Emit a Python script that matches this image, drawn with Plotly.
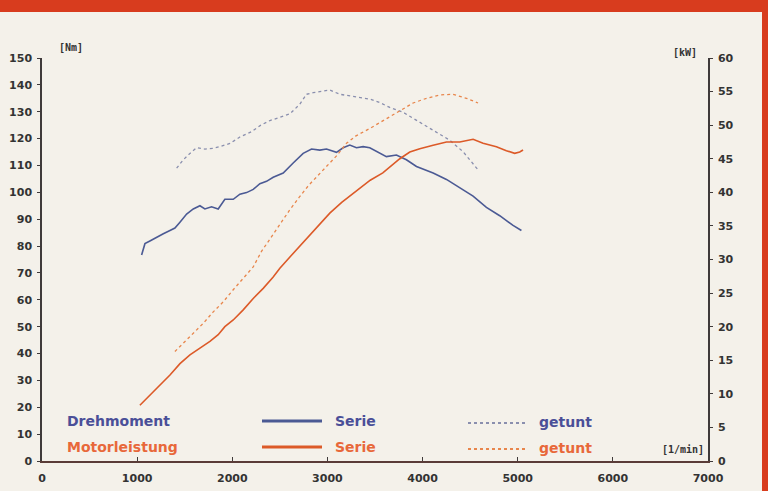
import plotly.graph_objects as go

# Drehmoment (Nm) über Drehzahl (1/min)
rpm_tq_serie = [1047, 1082, 1134, 1205, 1275, 1345, 1397, 1450, 1520, 1590, 1660, 1712, 1782,
                1852, 1922, 2010, 2080, 2150, 2220, 2290, 2360, 2430, 2500, 2535, 2640, 2745,
                2833, 2920, 2990, 3095, 3165, 3235, 3305, 3375, 3445, 3550, 3620, 3725, 3830,
                3936, 4111, 4251, 4391, 4531, 4671, 4811, 4951, 5039]
tq_serie = [76.7, 80.9, 81.9, 83.4, 84.6, 85.8, 86.7, 88.9, 91.9, 93.8, 95.0, 93.8, 94.6,
            93.8, 97.4, 97.4, 99.3, 99.9, 101.1, 103.2, 104.1, 105.6, 106.6, 107.2, 110.9, 114.5,
            116.1, 115.7, 116.1, 114.9, 116.6, 117.6, 116.6, 117.0, 116.6, 114.5, 113.3, 113.9, 112.1,
            109.6, 107.2, 104.8, 101.7, 98.6, 94.4, 91.3, 87.7, 85.8]

rpm_tq_getunt = [1415, 1485, 1555, 1625, 1712, 1800, 1870, 1975, 2080, 2200, 2300, 2395, 2500,
                 2605, 2710, 2780, 2850, 2955, 3025, 3130, 3235, 3340, 3445, 3550, 3655, 3795,
                 3936, 4111, 4286, 4426, 4513, 4583]
tq_getunt = [109.0, 112.1, 114.5, 116.6, 116.1, 116.4, 117.0, 118.2, 120.6, 122.5, 125.0, 126.7, 127.9,
             129.2, 132.8, 136.5, 137.1, 137.7, 138.1, 136.5, 135.9, 135.3, 134.7, 133.4, 131.6, 129.8,
             126.9, 123.1, 119.4, 115.1, 111.5, 108.4]

# Motorleistung (kW) über Drehzahl (1/min)
rpm_kw_serie = [1029, 1134, 1239, 1345, 1450, 1555, 1660, 1765, 1852, 1922, 2010, 2115, 2220,
                2325, 2430, 2500, 2620, 2742, 2880, 3025, 3150, 3309, 3450, 3582, 3700, 3761,
                3866, 3971, 4111, 4251, 4391, 4531, 4636, 4776, 4881, 4968, 5021, 5056]
kw_serie = [8.3, 9.8, 11.3, 12.8, 14.5, 15.8, 16.8, 17.8, 18.8, 20.0, 21.0, 22.5, 24.2,
            25.7, 27.4, 28.7, 30.6, 32.5, 34.8, 36.9, 38.5, 40.3, 41.8, 42.9, 44.2, 45.0,
            46.0, 46.5, 47.0, 47.5, 47.5, 47.9, 47.3, 46.8, 46.2, 45.8, 46.0, 46.3]

rpm_kw_getunt = [1397, 1485, 1590, 1695, 1800, 1905, 2010, 2115, 2220, 2307, 2400, 2500, 2600,
                 2700, 2800, 2900, 3000, 3100, 3200, 3300, 3445, 3620, 3795, 3901, 4041, 4181,
                 4321, 4461, 4583]
kw_getunt = [16.3, 17.5, 19.0, 20.5, 22.2, 23.7, 25.5, 27.2, 28.9, 31.2, 33.2, 35.2, 37.3,
             39.2, 41.0, 42.5, 44.0, 45.5, 47.3, 48.4, 49.5, 51.0, 52.5, 53.3, 54.0, 54.5,
             54.6, 54.0, 53.3]

x_ticks = [0, 1000, 2000, 3000, 4000, 5000, 6000, 7000]
nm_ticks = list(range(0, 151, 10))
kw_ticks = list(range(0, 61, 5))

BLUE = "#4b5a94"
BLUE_DOT = "#8a8fae"
ORANGE = "#dc5a28"
ORANGE_DOT = "#e8864c"
AXIS = "#3f3a3a"
BG = "#f4f1ea"
RED = "#d83c1e"

W, H = 768, 491
ML, MR, MT, MB = 42, 60, 58, 30
PW, PH = W - ML - MR, H - MT - MB


def px(x):
    return (x - ML) / PW


def py(y):
    return (H - MB - y) / PH


fig = go.Figure()
fig.add_trace(go.Scatter(x=rpm_tq_getunt, y=tq_getunt, mode="lines",
                         line=dict(color=BLUE_DOT, width=1.3, dash="dot")))
fig.add_trace(go.Scatter(x=rpm_tq_serie, y=tq_serie, mode="lines",
                         line=dict(color=BLUE, width=1.6)))
fig.add_trace(go.Scatter(x=rpm_kw_getunt, y=kw_getunt, mode="lines", yaxis="y2",
                         line=dict(color=ORANGE_DOT, width=1.3, dash="dot")))
fig.add_trace(go.Scatter(x=rpm_kw_serie, y=kw_serie, mode="lines", yaxis="y2",
                         line=dict(color=ORANGE, width=1.6)))

tick_font = dict(family="DejaVu Sans", size=11, color="#333", weight="bold")

fig.update_layout(
    width=W, height=H,
    margin=dict(l=ML, r=MR, t=MT, b=MB, autoexpand=False),
    paper_bgcolor=BG, plot_bgcolor=BG,
    showlegend=False,
    xaxis=dict(range=[0, 7000], tickvals=x_ticks, ticks="inside", ticklen=4, tickcolor=AXIS,
               showgrid=False, zeroline=False, showline=True, linecolor="#5a3c38", linewidth=1.5,
               tickfont=tick_font, ticklabelstandoff=6, automargin=False),
    yaxis=dict(range=[0, 150], tickvals=nm_ticks, ticks="outside", ticklen=3, tickcolor=AXIS,
               showgrid=False, zeroline=False, showline=True, linecolor=AXIS, linewidth=1.5,
               tickfont=tick_font, ticklabelstandoff=3, automargin=False),
    yaxis2=dict(range=[0, 60], tickvals=kw_ticks, overlaying="y", side="right",
                ticks="outside", ticklen=3, tickcolor=AXIS,
                showgrid=False, zeroline=False, showline=True, linecolor=AXIS, linewidth=1.5,
                tickfont=tick_font, ticklabelstandoff=3, automargin=False),
)

# Rahmen der Seite
fig.add_shape(type="rect", xref="paper", yref="paper", x0=px(0), x1=px(W), y0=py(0), y1=py(12),
              fillcolor=RED, line_width=0, layer="above")
fig.add_shape(type="rect", xref="paper", yref="paper", x0=px(762), x1=px(W), y0=py(0), y1=py(H),
              fillcolor=RED, line_width=0, layer="above")

unit_font = dict(family="DejaVu Sans Mono", size=10, color="#333", weight="bold")
fig.add_annotation(text="[Nm]", xref="paper", yref="paper", x=px(57), y=py(48),
                   xanchor="left", yanchor="middle", showarrow=False, font=unit_font)
fig.add_annotation(text="[kW]", xref="paper", yref="paper", x=px(699), y=py(52),
                   xanchor="right", yanchor="middle", showarrow=False, font=unit_font)
fig.add_annotation(text="[1/min]", xref="paper", yref="paper", x=px(706), y=py(449),
                   xanchor="right", yanchor="middle", showarrow=False, font=unit_font)

# Legende
leg_font = "DejaVu Sans"
rows = [("Drehmoment", "#4a4f98", BLUE, BLUE_DOT, 421),
        ("Motorleistung", "#e8683a", ORANGE, ORANGE_DOT, 447)]
for label, tcol, lcol, dcol, yy in rows:
    fig.add_annotation(text=label, xref="paper", yref="paper", x=px(65), y=py(yy),
                       xanchor="left", yanchor="middle", showarrow=False,
                       font=dict(family=leg_font, size=14, color=tcol, weight="bold"))
    fig.add_shape(type="line", xref="paper", yref="paper", x0=px(262), x1=px(322),
                  y0=py(yy), y1=py(yy), line=dict(color=lcol, width=3))
    fig.add_annotation(text="Serie", xref="paper", yref="paper", x=px(333), y=py(yy),
                       xanchor="left", yanchor="middle", showarrow=False,
                       font=dict(family=leg_font, size=14, color=tcol, weight="bold"))
    fig.add_shape(type="line", xref="paper", yref="paper", x0=px(468), x1=px(528),
                  y0=py(yy + 2), y1=py(yy + 2), line=dict(color=dcol, width=2, dash="dot"))
    fig.add_annotation(text="getunt", xref="paper", yref="paper", x=px(537), y=py(yy + 1),
                       xanchor="left", yanchor="middle", showarrow=False,
                       font=dict(family=leg_font, size=14, color=tcol, weight="bold"))

fig.write_html("out.html")
